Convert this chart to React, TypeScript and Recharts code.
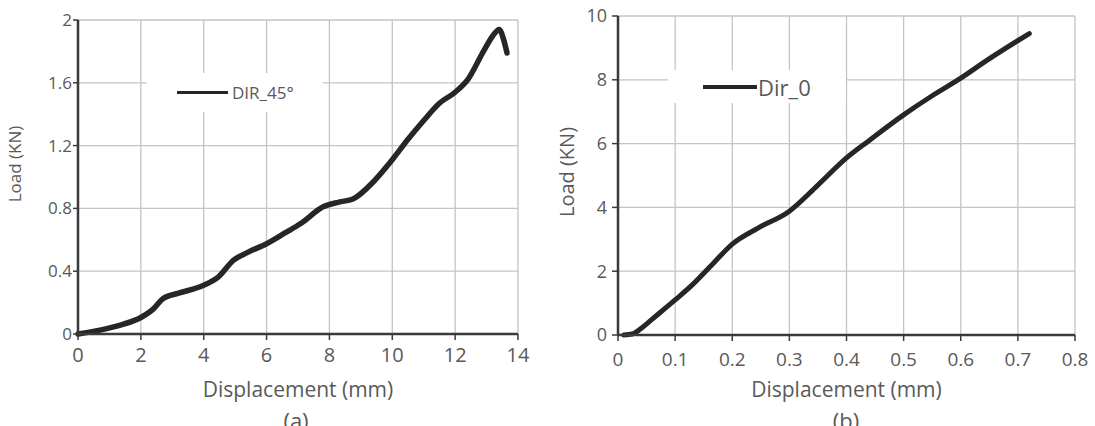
import React from "react";
import { LineChart, Line, XAxis, YAxis, CartesianGrid, Legend, Label } from "recharts";

// (a) DIR_45° specimen
const dispA = [0, 0.7, 1.4, 2, 2.4, 2.7, 3.2, 4, 4.45, 4.95, 5.4, 6, 6.6, 7.1, 7.8, 8.3, 8.75, 9.4, 10, 10.5, 11, 11.5, 12, 12.4, 12.9, 13.2, 13.4, 13.55, 13.65];
const loadA = [0, 0.025, 0.06, 0.105, 0.16, 0.225, 0.26, 0.31, 0.36, 0.47, 0.52, 0.575, 0.645, 0.705, 0.81, 0.84, 0.86, 0.97, 1.11, 1.24, 1.36, 1.47, 1.54, 1.62, 1.8, 1.9, 1.94, 1.87, 1.79];
const xTicksA = [0, 2, 4, 6, 8, 10, 12, 14];
const yTicksA = [0, 0.4, 0.8, 1.2, 1.6, 2];

// (b) Dir_0 specimen
const dispB = [0.01, 0.025, 0.04, 0.06, 0.1, 0.13, 0.167, 0.2, 0.245, 0.3, 0.35, 0.4, 0.44, 0.5, 0.55, 0.6, 0.645, 0.72];
const loadB = [0, 0.03, 0.2, 0.5, 1.1, 1.57, 2.25, 2.85, 3.35, 3.88, 4.7, 5.55, 6.1, 6.9, 7.5, 8.05, 8.6, 9.45];
const xTicksB = [0, 0.1, 0.2, 0.3, 0.4, 0.5, 0.6, 0.7, 0.8];
const yTicksB = [0, 2, 4, 6, 8, 10];

const dataA = dispA.map((x, i) => ({ x, y: loadA[i] }));
const dataB = dispB.map((x, i) => ({ x, y: loadB[i] }));

const LINE = "#262626";
const TXT = "#595959";
const GRID = "#c4c4c4";
const AXIS = "#3a3a3a";

function LegendBox({ name, padLeft, lineW, lineH, gap, fontSize }) {
    return (
        <div style={{ display: "flex", alignItems: "center", width: "100%", height: "100%", background: "#fff" }}>
            <span style={{ display: "inline-block", marginLeft: padLeft, width: lineW, height: lineH, background: LINE }} />
            <span style={{ marginLeft: gap, fontSize, color: TXT, lineHeight: 1 }}>{name}</span>
        </div>
    );
}

const yTitle = (cx: number, cy: number, size: number) => () => (
    <text x={cx} y={cy} transform={`rotate(-90 ${cx} ${cy})`} textAnchor="middle" dominantBaseline="central" fill={TXT} fontSize={size}>
        Load (KN)
    </text>
);

export default function App() {
    return (
        <div style={{ position: "absolute", left: 0, top: 0, width: 1095, height: 426, background: "#fff", fontFamily: "'Open Sans', sans-serif", overflow: "hidden" }}>
            <div style={{ position: "absolute", left: 0, top: 0 }}>
                <LineChart width={540} height={426} data={dataA} margin={{ top: 20, right: 22, bottom: 52, left: 18 }}>
                    <CartesianGrid stroke={GRID} strokeWidth={1.3} />
                    <XAxis
                        type="number"
                        dataKey="x"
                        domain={[0, 14]}
                        ticks={xTicksA}
                        interval={0}
                        height={40}
                        axisLine={{ stroke: AXIS, strokeWidth: 2.5 }}
                        tickLine={{ stroke: AXIS, strokeWidth: 1.5 }}
                        tickSize={6}
                        tickMargin={8}
                        tick={{ fill: TXT, fontSize: 20 }}
                    >
                        <Label value="Displacement (mm)" position="bottom" offset={8} fill={TXT} fontSize={21} />
                    </XAxis>
                    <YAxis
                        type="number"
                        domain={[0, 2]}
                        ticks={yTicksA}
                        interval={0}
                        width={60}
                        axisLine={{ stroke: AXIS, strokeWidth: 2.5 }}
                        tickLine={{ stroke: AXIS, strokeWidth: 1.5 }}
                        tickSize={5}
                        tickMargin={1}
                        tick={{ fill: TXT, fontSize: 17 }}
                    >
                        <Label content={yTitle(14, 164, 17)} />
                    </YAxis>
                    <Legend
                        layout="vertical"
                        align="center"
                        verticalAlign="middle"
                        wrapperStyle={{ left: 147, top: 73, width: 176, height: 39 }}
                        content={() => <LegendBox name="DIR_45°" padLeft={30} lineW={51} lineH={3} gap={4} fontSize={17} />}
                    />
                    <Line
                        type="monotone"
                        dataKey="y"
                        stroke={LINE}
                        strokeWidth={5.5}
                        strokeLinecap="round"
                        dot={false}
                        isAnimationActive={false}
                    />
                </LineChart>
            </div>
            <div style={{ position: "absolute", left: 540, top: 0 }}>
                <LineChart width={555} height={426} data={dataB} margin={{ top: 16, right: 20, bottom: 51, left: 18 }}>
                    <CartesianGrid stroke={GRID} strokeWidth={1.3} />
                    <XAxis
                        type="number"
                        dataKey="x"
                        domain={[0, 0.8]}
                        ticks={xTicksB}
                        interval={0}
                        height={40}
                        axisLine={{ stroke: AXIS, strokeWidth: 2.5 }}
                        tickLine={{ stroke: AXIS, strokeWidth: 1.5 }}
                        tickSize={6}
                        tickMargin={12}
                        tick={{ fill: TXT, fontSize: 19 }}
                    >
                        <Label value="Displacement (mm)" position="bottom" offset={7} fill={TXT} fontSize={21} />
                    </XAxis>
                    <YAxis
                        type="number"
                        domain={[0, 10]}
                        ticks={yTicksB}
                        interval={0}
                        width={60}
                        axisLine={{ stroke: AXIS, strokeWidth: 2.5 }}
                        tickLine={{ stroke: AXIS, strokeWidth: 1.5 }}
                        tickSize={6}
                        tickMargin={5}
                        tick={{ fill: TXT, fontSize: 18 }}
                    >
                        <Label content={yTitle(26, 172, 20)} />
                    </YAxis>
                    <Legend
                        layout="vertical"
                        align="center"
                        verticalAlign="middle"
                        wrapperStyle={{ left: 128, top: 70, width: 178, height: 33 }}
                        content={() => <LegendBox name="Dir_0" padLeft={35} lineW={54} lineH={4} gap={1} fontSize={22} />}
                    />
                    <Line
                        type="monotone"
                        dataKey="y"
                        stroke={LINE}
                        strokeWidth={5}
                        strokeLinecap="round"
                        dot={false}
                        isAnimationActive={false}
                    />
                </LineChart>
            </div>
            <div style={{ position: "absolute", left: 246, width: 100, top: 409, textAlign: "center", fontSize: 22, lineHeight: 1, color: TXT }}>(a)</div>
            <div style={{ position: "absolute", left: 796, width: 100, top: 409, textAlign: "center", fontSize: 22, lineHeight: 1, color: TXT }}>(b)</div>
        </div>
    );
}
